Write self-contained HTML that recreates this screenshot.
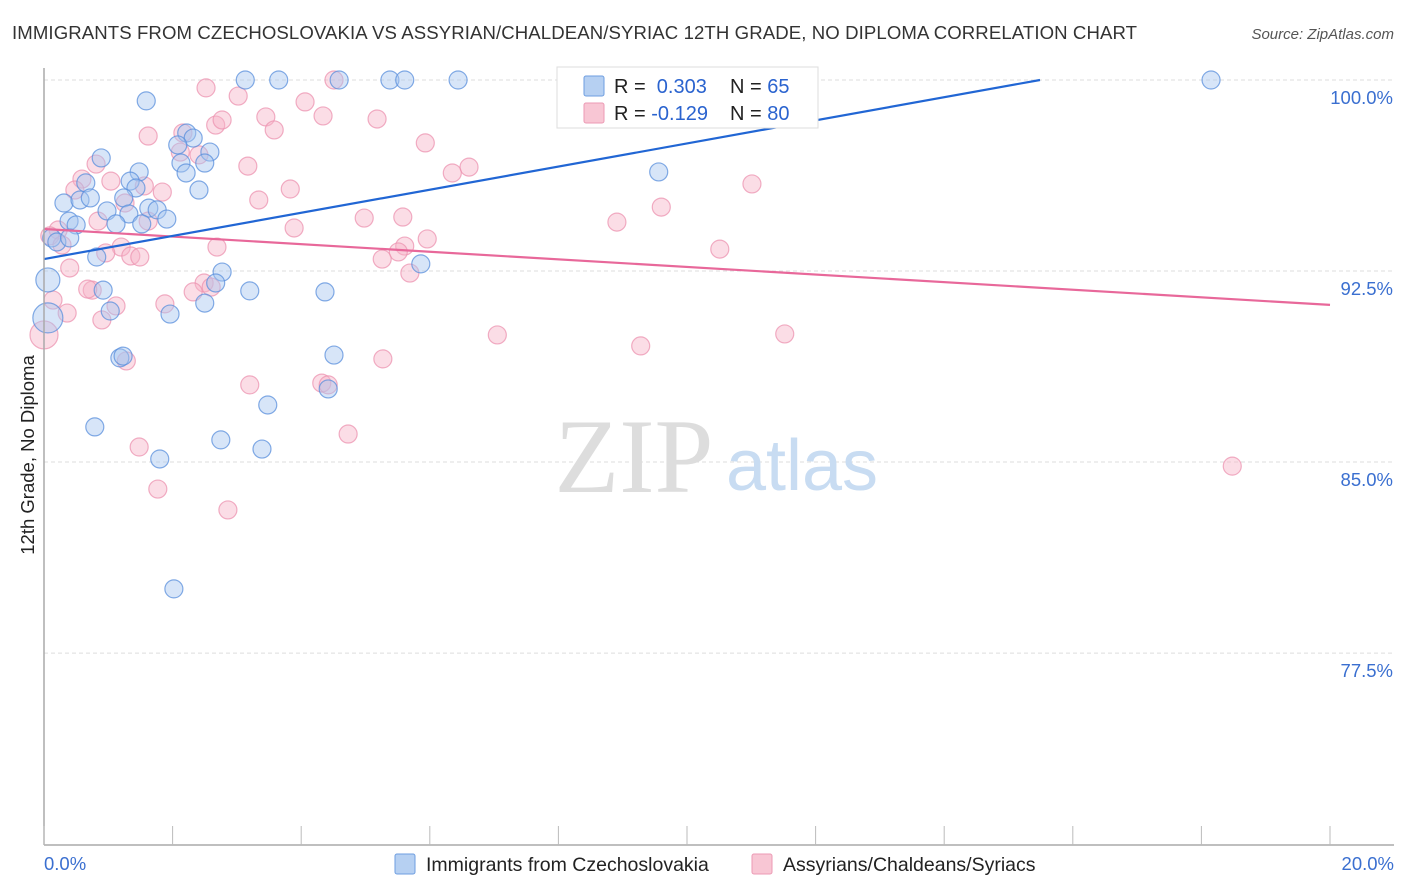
<!DOCTYPE html>
<html><head><meta charset="utf-8">
<style>
body{margin:0;background:#fff;font-family:"Liberation Sans",sans-serif;}
svg{display:block}
</style></head>
<body>
<svg id="chart" width="1406" height="892" xmlns="http://www.w3.org/2000/svg">
<text x="12" y="39" font-size="18.6" fill="#333" textLength="1125">IMMIGRANTS FROM CZECHOSLOVAKIA VS ASSYRIAN/CHALDEAN/SYRIAC 12TH GRADE, NO DIPLOMA CORRELATION CHART</text>
<text x="1394" y="39" font-size="15" fill="#555" font-style="italic" text-anchor="end">Source: ZipAtlas.com</text>
<g id="grid"></g>
<text x="634" y="492" font-size="106" font-family="Liberation Serif,serif" fill="#ddd" text-anchor="middle">ZIP</text>
<text x="802" y="490" font-size="72" fill="#c8dcf2" text-anchor="middle">atlas</text>
<g id="points"></g>
<g id="lines"></g>
<line x1="44" y1="68" x2="44" y2="845" stroke="#aaa" stroke-width="1.5"/>
<line x1="44" y1="845" x2="1394" y2="845" stroke="#aaa" stroke-width="1.5"/>
<g id="xticks"></g>
<text transform="translate(34,455) rotate(-90)" font-size="18.5" fill="#222" text-anchor="middle">12th Grade, No Diploma</text>
<text x="44" y="870" font-size="18.5" fill="#3a6fd0">0.0%</text>
<text x="1394" y="870" font-size="18.5" fill="#3a6fd0" text-anchor="end">20.0%</text>
<g>
<rect x="557" y="67" width="261" height="61" fill="#fff" stroke="#ddd"/>
<rect x="584" y="76" width="20" height="20" fill="#b6d0f2" stroke="#6e9ee0" rx="2"/>
<rect x="584" y="103" width="20" height="20" fill="#f8c6d4" stroke="#ec9ab4" rx="2"/>
<text x="614" y="93" font-size="20" fill="#222">R = <tspan fill="#2a63cf">&#160;0.303</tspan><tspan x="730">N = </tspan><tspan fill="#2a63cf">65</tspan></text>
<text x="614" y="120" font-size="20" fill="#222">R = <tspan fill="#2a63cf">-0.129</tspan><tspan x="730">N = </tspan><tspan fill="#2a63cf">80</tspan></text>
</g>
<g>
<rect x="395" y="854" width="20" height="20" fill="#b6d0f2" stroke="#6e9ee0" rx="2"/>
<text x="426" y="871" font-size="19.5" fill="#222">Immigrants from Czechoslovakia</text>
<rect x="752" y="854" width="20" height="20" fill="#f8c6d4" stroke="#ec9ab4" rx="2"/>
<text x="783" y="871" font-size="19.5" fill="#222">Assyrians/Chaldeans/Syriacs</text>
</g>
</svg>
<script>
const yTicks=[100,92.5,85,77.5];
const yTickLabels=["100.0%","92.5%","85.0%","77.5%"];
const xTicks=[0,2,4,6,8,10,12,14,16,18,20];
const blueX=[3.13,3.65,4.59,5.38,5.61,6.44,18.15,8.18,1.59,2.22,2.32,2.08,2.58,2.13,2.50,2.21,1.48,0.89,9.56,0.65,1.34,1.43,2.41,0.31,0.56,0.72,1.24,1.63,1.76,0.98,1.32,1.91,0.39,0.50,1.12,1.52,0.12,0.20,0.40,0.82,0.06,0.92,2.77,2.67,3.20,4.37,5.86,2.50,1.03,1.96,0.06,1.18,1.23,4.51,4.42,3.48,0.79,2.75,3.39,1.80,2.02];
const blueY=[100,100,100,100,100,100,100,100,99.18,97.92,97.72,97.45,97.17,96.74,96.74,96.35,96.39,96.94,96.39,95.96,96.03,95.76,95.68,95.17,95.29,95.37,95.37,94.97,94.90,94.86,94.74,94.54,94.46,94.31,94.35,94.35,93.80,93.64,93.80,93.05,92.15,91.75,92.46,92.03,91.72,91.68,92.78,91.24,90.93,90.81,90.66,89.09,89.16,89.20,87.87,87.24,86.38,85.87,85.51,85.12,80.02];
const blueR=[9,9,9,9,9,9,9,9,9,9,9,9,9,9,9,9,9,9,9,9,9,9,9,9,9,9,9,9,9,9,9,9,9,9,9,9,9,9,9,9,12,9,9,9,9,9,9,9,9,9,15,9,9,9,9,9,9,9,9,9,9];
const pinkX=[2.52,3.02,4.06,4.34,3.45,5.18,1.62,2.16,2.67,2.77,3.58,2.41,2.12,5.93,0.81,3.17,0.59,1.04,6.61,6.35,0.48,1.56,1.84,3.83,1.26,3.34,11.01,9.60,8.91,4.98,5.58,0.84,1.62,3.89,0.22,0.09,0.28,5.96,1.20,2.69,5.61,5.51,0.96,1.35,1.49,5.26,10.51,0.40,5.69,2.49,2.60,0.75,0.68,2.32,0.14,1.88,1.12,0.90,0.36,0.0,7.05,9.28,11.52,5.27,1.28,3.20,4.32,4.42,4.73,1.48,1.77,2.86,18.48,4.51];
const pinkY=[99.69,99.37,99.14,98.59,98.55,98.47,97.80,97.92,98.23,98.43,98.04,97.06,97.17,97.53,96.70,96.62,96.11,96.03,96.58,96.35,95.68,95.84,95.60,95.72,95.17,95.29,95.92,95.01,94.42,94.58,94.62,94.46,94.46,94.19,94.11,93.88,93.52,93.76,93.44,93.44,93.48,93.25,93.21,93.09,93.05,92.97,93.36,92.62,92.42,92.03,91.87,91.75,91.79,91.68,91.36,91.21,91.13,90.58,90.85,89.99,89.99,89.56,90.03,89.05,88.97,88.03,88.10,88.03,86.10,85.59,83.94,83.12,84.84,100];
const pinkR=[9,9,9,9,9,9,9,9,9,9,9,9,9,9,9,9,9,9,9,9,9,9,9,9,9,9,9,9,9,9,9,9,9,9,9,9,9,9,9,9,9,9,9,9,9,9,9,9,9,9,9,9,9,9,9,9,9,9,9,14,9,9,9,9,9,9,9,9,9,9,9,9,9,9];
const blueTrend=[92.97,100.0];
const blueTrendX=[0,15.49];
const pinkTrend=[94.15,91.17];
const pinkTrendX=[0,20];

const NS="http://www.w3.org/2000/svg";
const X=v=>44+v*64.3;
const Y=v=>80+(100-v)*25.47;
const grid=document.getElementById('grid');
yTicks.forEach((t,i)=>{
 const l=document.createElementNS(NS,'line');
 l.setAttribute('x1',44);l.setAttribute('x2',1394);
 l.setAttribute('y1',Y(t));l.setAttribute('y2',Y(t));
 l.setAttribute('stroke','#ddd');l.setAttribute('stroke-dasharray','4,3');
 
 
 grid.appendChild(l);
 const tx=document.createElementNS(NS,'text');
 tx.setAttribute('x',1393);tx.setAttribute('y',Y(t)+24);
 tx.setAttribute('text-anchor','end');tx.setAttribute('font-size','18.5');tx.setAttribute('fill','#3a6fd0');
 tx.textContent=yTickLabels[i];
 
 
 grid.appendChild(tx);
});
const xt=document.getElementById('xticks');
xTicks.forEach(t=>{
 const l=document.createElementNS(NS,'line');
 l.setAttribute('x1',X(t));l.setAttribute('x2',X(t));
 l.setAttribute('y1',826);l.setAttribute('y2',845);
 l.setAttribute('stroke','#bbb');
 
 
 xt.appendChild(l);
});
const pts=document.getElementById('points');
function draw(xs,ys,rs,fill,stroke,name){
 xs.forEach((x,i)=>{
  const c=document.createElementNS(NS,'circle');
  c.setAttribute('cx',X(x));c.setAttribute('cy',Y(ys[i]));c.setAttribute('r',rs[i]);
  c.setAttribute('fill',fill);c.setAttribute('fill-opacity','0.45');
  c.setAttribute('stroke',stroke);c.setAttribute('stroke-opacity','0.75');c.setAttribute('stroke-width','1.2');
  
  
  pts.appendChild(c);
 });
}
draw(pinkX,pinkY,pinkR,'#f7b4c8','#ec93b0','point-assyrian');
draw(blueX,blueY,blueR,'#a6c6f0','#5a8fdc','point-czech');
const lines=document.getElementById('lines');
function tl(xs,ys,col,name){
 const l=document.createElementNS(NS,'line');
 l.setAttribute('x1',X(xs[0]));l.setAttribute('y1',Y(ys[0]));
 l.setAttribute('x2',X(xs[1]));l.setAttribute('y2',Y(ys[1]));
 l.setAttribute('stroke',col);l.setAttribute('stroke-width','2.2');
 
 
 lines.appendChild(l);
}
tl(pinkTrendX,pinkTrend,'#e8689a','trendline-assyrian');
tl(blueTrendX,blueTrend,'#2166d4','trendline-czech');
</script>
</body></html>
